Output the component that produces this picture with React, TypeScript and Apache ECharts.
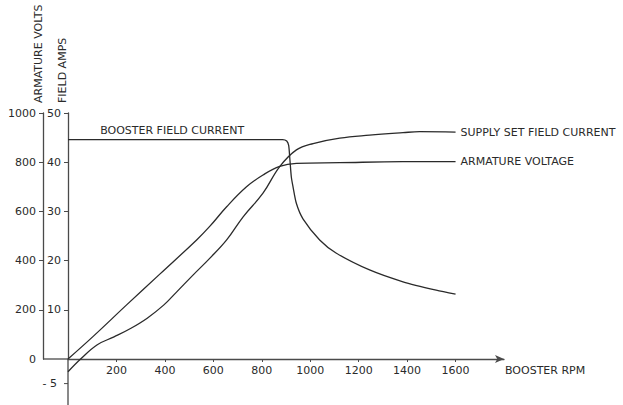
import { useEffect, useRef } from "react";
import * as echarts from "echarts";

// Booster field current (field amps axis)
const boosterRpm = [0, 886, 903, 911, 916, 922, 929, 943, 970, 1039, 1108, 1245, 1383, 1520, 1600];
const boosterAmps = [44.6, 44.6, 44.3, 43.4, 40.6, 37.0, 35.0, 31.6, 28.5, 24.2, 21.5, 18.1, 15.7, 14.0, 13.2];

// Supply set field current (field amps axis)
const supplyRpm = [0, 52, 121, 190, 258, 327, 396, 448, 517, 586, 655, 723, 805, 874, 943, 1012, 1122, 1245, 1383, 1452, 1600];
const supplyAmps = [-2.6, 0, 2.9, 4.5, 6.2, 8.3, 11.0, 13.6, 17.1, 20.5, 24.2, 28.9, 33.7, 39.1, 42.5, 43.8, 44.9, 45.5, 46.0, 46.2, 46.1];

// Armature voltage (armature volts axis)
const armatureRpm = [0, 104, 242, 379, 531, 586, 655, 737, 805, 874, 943, 1122, 1382, 1600];
const armatureVolts = [0, 92, 220, 345, 484, 540, 619, 700, 748, 783, 795, 798, 802, 802];

// Tick labels
const rpmTicks = [200, 400, 600, 800, 1000, 1200, 1400, 1600];
const ampTicks = [10, 20, 30, 40, 50];
const negAmpTick = -5;
const voltLabels = [0, 200, 400, 600, 800, 1000];
const voltTicks = [200, 400, 600, 800, 1000];

const FONT = "'DejaVu Sans', sans-serif";
const INK = "#2a2a2a";
const AXIS = "#4a4a4a";

const zip = (xs: number[], ys: number[]) => xs.map((x, i) => [x, ys[i]]);

export default function App() {
  const ref = useRef<HTMLDivElement>(null);
  useEffect(() => {
    const chart = echarts.init(ref.current!, null, { renderer: "svg" });
    const lineStyle = { color: INK, width: 1.3 };
    const labelBase = { fontSize: 11, fontFamily: FONT, color: INK };
    chart.setOption({
      animation: false,
      backgroundColor: "#ffffff",
      grid: { left: 68, top: 113, width: 436, height: 246, outerBoundsMode: "none", containLabel: false },
      xAxis: {
        type: "value",
        min: 0,
        max: 1800,
        axisLine: {
          onZero: false,
          symbol: ["none", "arrow"],
          symbolSize: [6, 9],
          lineStyle: { color: AXIS, width: 1.3 },
        },
        axisTick: { show: true, length: 3, customValues: rpmTicks, lineStyle: { color: AXIS } },
        axisLabel: { ...labelBase, customValues: rpmTicks, margin: 6, formatter: (v: number) => String(v) },
        splitLine: { show: false },
      },
      yAxis: [
        {
          type: "value",
          position: "left",
          min: 0,
          max: 50,
          axisLine: { show: true, onZero: false, lineStyle: { color: AXIS, width: 1.3 } },
          axisTick: { show: true, length: 4, customValues: ampTicks, lineStyle: { color: AXIS } },
          axisLabel: { ...labelBase, customValues: ampTicks, margin: 7, formatter: (v: number) => String(v) },
          splitLine: { show: false },
        },
        {
          type: "value",
          position: "left",
          offset: 25,
          min: 0,
          max: 1000,
          axisLine: { show: true, onZero: false, lineStyle: { color: AXIS, width: 1.3 } },
          axisTick: { show: true, length: 4, customValues: voltTicks, lineStyle: { color: AXIS } },
          axisLabel: { ...labelBase, customValues: voltLabels, margin: 7, formatter: (v: number) => String(v) },
          splitLine: { show: false },
        },
      ],
      series: [
        {
          name: "BOOSTER FIELD CURRENT",
          type: "line",
          yAxisIndex: 0,
          data: zip(boosterRpm, boosterAmps),
          showSymbol: false,
          smooth: 0.25,
          lineStyle,
          clip: false,
        },
        {
          name: "SUPPLY SET FIELD CURRENT",
          type: "line",
          yAxisIndex: 0,
          data: zip(supplyRpm, supplyAmps),
          showSymbol: false,
          smooth: 0.4,
          lineStyle,
          clip: false,
          endLabel: { ...labelBase, show: true, formatter: "{a}", distance: 5 },
        },
        {
          name: "ARMATURE VOLTAGE",
          type: "line",
          yAxisIndex: 1,
          data: zip(armatureRpm, armatureVolts),
          showSymbol: false,
          smooth: 0.4,
          lineStyle,
          clip: false,
          endLabel: { ...labelBase, show: true, formatter: "{a}", distance: 5 },
        },
      ],
    });

    const px = (x: number, y: number, yi: number) =>
      chart.convertToPixel({ xAxisIndex: 0, yAxisIndex: yi }, [x, y]) as number[];
    const origin = px(0, 0, 0);
    const neg = px(0, negAmpTick, 0);
    const voltX = origin[0] - 25;
    const boosterLbl = px(430, boosterAmps[0], 0);
    const axisEnd = px(1800, 0, 0);
    const textStyle = { fill: INK, fontSize: 11, fontFamily: FONT };

    chart.setOption({
      graphic: [
        {
          type: "line",
          shape: { x1: voltX, y1: origin[1], x2: origin[0], y2: origin[1] },
          style: { stroke: AXIS, lineWidth: 1.3 },
        },
        {
          type: "line",
          shape: { x1: origin[0], y1: origin[1], x2: origin[0], y2: 405 },
          style: { stroke: AXIS, lineWidth: 1.3 },
        },
        {
          type: "line",
          shape: { x1: origin[0] - 4, y1: neg[1], x2: origin[0], y2: neg[1] },
          style: { stroke: AXIS, lineWidth: 1 },
        },
        {
          type: "text",
          x: origin[0] - 11,
          y: neg[1],
          style: { ...textStyle, text: "- 5", align: "right", verticalAlign: "middle" },
        },
        {
          type: "text",
          x: boosterLbl[0],
          y: boosterLbl[1] - 9,
          style: { ...textStyle, text: "BOOSTER FIELD CURRENT", align: "center", verticalAlign: "middle" },
        },
        {
          type: "text",
          x: axisEnd[0] + 1,
          y: axisEnd[1] + 11,
          style: { ...textStyle, text: "BOOSTER RPM", align: "left", verticalAlign: "middle" },
        },
        {
          type: "text",
          x: voltX - 5,
          y: 103,
          rotation: Math.PI / 2,
          style: { ...textStyle, text: "ARMATURE VOLTS", align: "left", verticalAlign: "middle" },
        },
        {
          type: "text",
          x: origin[0] - 6,
          y: 103,
          rotation: Math.PI / 2,
          style: { ...textStyle, text: "FIELD AMPS", align: "left", verticalAlign: "middle" },
        },
      ],
    });

    return () => chart.dispose();
  }, []);
  return <div ref={ref} style={{ position: "fixed", left: 0, top: 0, width: 623, height: 405 }} />;
}
